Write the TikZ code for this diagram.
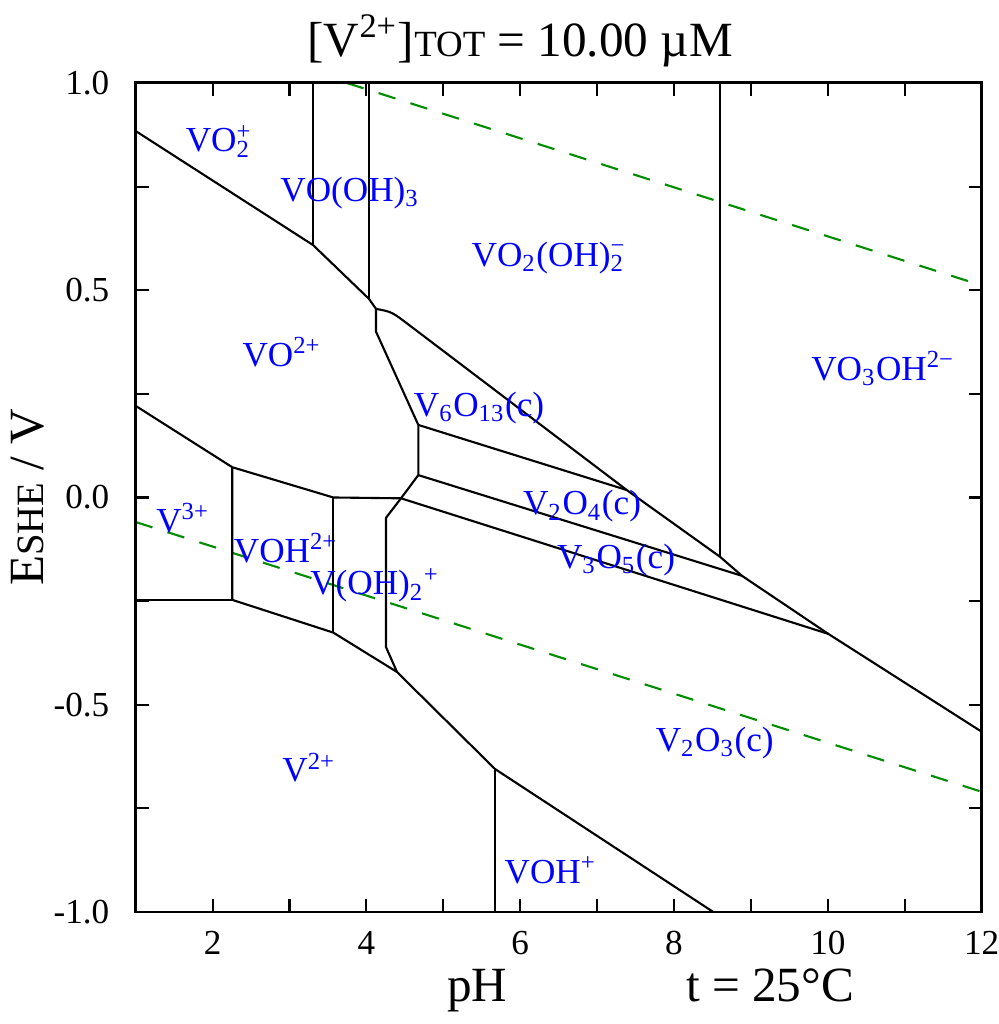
\documentclass[tikz,border=0pt]{standalone}
\usepackage{fontspec}
\setmainfont{Liberation Serif}
\usetikzlibrary{positioning}
\definecolor{waterline}{RGB}{0,140,0}
% subscript and superscript stacked over one another
\newcommand{\stk}[2]{\rlap{\textsubscript{#1}}\textsuperscript{#2}}

\begin{document}
\begin{tikzpicture}[x=0.769cm, y=4.145cm,
		bound/.style={black, line width=0.6pt, line join=round},
		water/.style={waterline, line width=0.6pt, dash pattern=on 5pt off 4.5pt},
		species/.style={blue, anchor=base, inner sep=0pt, font=\fontsize{10}{12}\selectfont},
		ticklbl/.style={inner sep=0pt, font=\fontsize{10}{12}\selectfont},
		axislbl/.style={inner sep=0pt, anchor=base, font=\fontsize{14}{16}\selectfont}]
	\useasboundingbox (-0.7646,-1.2702) rectangle (12.226,1.2002);
	
	% water stability limits
	\draw [water] (1,-0.0592) -- (12,-0.7099);
	\draw [water] (3.745,1) -- (12,0.5116);
	
	% corners of the fields
	\coordinate (a1) at (1,0.884);
	\coordinate (b1) at (3.306,0.609);
	\coordinate (c1) at (4.034,0.479);
	\coordinate (d1) at (4.125,0.455);
	\coordinate (e1) at (4.125,0.400);
	\coordinate (f1) at (4.675,0.175);
	\coordinate (g1) at (4.675,0.054);
	\coordinate (h1) at (4.450,-0.002);
	\coordinate (i1) at (4.255,-0.049);
	\coordinate (j1) at (4.255,-0.361);
	\coordinate (k1) at (4.398,-0.421);
	\coordinate (m1) at (5.672,-0.655);
	\coordinate (n1) at (8.511,-1);
	\coordinate (p1) at (7.385,0.018);
	\coordinate (q1) at (8.598,-0.143);
	\coordinate (r1) at (8.884,-0.189);
	\coordinate (s1) at (10.006,-0.329);
	\coordinate (a2) at (1,0.221);
	\coordinate (t1) at (2.256,0.073);
	\coordinate (u1) at (3.570,0.0);
	\coordinate (v1) at (2.256,-0.247);
	\coordinate (a3) at (1,-0.247);
	\coordinate (w1) at (3.570,-0.326);
	
	% boundaries
	\draw [bound] (a1) -- (b1) -- (c1) -- (d1) -- (e1) -- (f1) -- (g1) -- (h1)
		-- (i1) -- (j1) -- (k1) -- (m1) -- (n1);
	\draw [bound] (b1) -- (b1 |- 0,1);
	\draw [bound] (c1) -- (c1 |- 0,1);
	\draw [bound] (m1) -- (m1 |- 0,-1);
	\draw [bound] (d1) .. controls (4.33,0.448) .. (4.57,0.414) -- (p1) -- (q1)
		-- (r1) -- (s1) -- (12,-0.565);
	\draw [bound] (q1) -- (q1 |- 0,1);
	\draw [bound] (f1) -- (p1);
	\draw [bound] (g1) -- (r1);
	\draw [bound] (h1) -- (s1);
	\draw [bound] (a2) -- (t1) -- (u1) -- (h1);
	\draw [bound] (t1) -- (v1) -- (w1) -- (k1);
	\draw [bound] (a3) -- (v1);
	\draw [bound] (u1) -- (w1);
	
	% frame and ticks
	\draw [line width=0.85pt] (1,-1) rectangle (12,1);
	\foreach \x in {2,...,11} {
		\draw [line width=0.6pt] (\x,-1) -- ++(0cm,0.13cm);
		\draw [line width=0.6pt] (\x,1) -- ++(0cm,-0.13cm);
	}
	\foreach \y in {-0.75,-0.5,...,0.8} {
		\draw [line width=0.6pt] (1,\y) -- ++(0.13cm,0cm);
		\draw [line width=0.6pt] (12,\y) -- ++(-0.13cm,0cm);
	}
	\foreach \x in {2,4,...,12}
		\node [ticklbl] (xt\x) at (\x,-1.075) {\x};
	\foreach \y/\t [count=\i] in {1/1.0, 0.5/0.5, 0/0.0, -0.5/-0.5, -1/-1.0}
		\node [ticklbl, anchor=east] (yt\i) at (0.666,\y) {\t};
	
	% axis titles
	\node [axislbl] (title) at (6.0,1.065) {[V\textsuperscript{2+}]{\fontsize{10.5}{12}\selectfont TOT} = 10.00 µM};
	\node [axislbl] (phlbl) at (5.44,-1.215) {pH};
	\node [axislbl] (temp) at (9.25,-1.215) {t = 25°C};
	\node [axislbl, anchor=center, rotate=90] (elbl) at (-0.41,0) {E{\fontsize{11}{13}\selectfont SHE} / V};
	
	% species
	\node [species] (vo2p) at (2.083,0.834) {VO\stk{2}{+}};
	\node [species] (vooh3) at (3.786,0.714) {VO(OH)\textsubscript{3}};
	\node [species] (vo2oh2) at (6.374,0.557) {VO\textsubscript{2}(OH)\stk{2}{−}};
	\node [species] (vo) at (2.902,0.317) {VO\textsuperscript{2+}};
	\node [species] (vo3oh) at (10.718,0.283) {VO\textsubscript{3}OH\textsuperscript{2−}};
	\node [species] (v6o13) at (5.464,0.195) {V\textsubscript{6}O\textsubscript{13}(c)};
	\node [species] (v2o4) at (6.804,-0.042) {V\textsubscript{2}O\textsubscript{4}(c)};
	\node [species] (v3o5) at (7.246,-0.171) {V\textsubscript{3}O\textsubscript{5}(c)};
	\node [species] (v3p) at (1.615,-0.085) {V\textsuperscript{3+}};
	\node [species] (voh2p) at (2.954,-0.157) {VOH\textsuperscript{2+}};
	\node [species] (voh2) at (4.111,-0.235) {V(OH)\textsubscript{2}\textsuperscript{+}};
	\node [species] (v2o3) at (8.529,-0.613) {V\textsubscript{2}O\textsubscript{3}(c)};
	\node [species] (v2p) at (3.254,-0.686) {V\textsuperscript{2+}};
	\node [species] (vohp) at (6.394,-0.931) {VOH\textsuperscript{+}};
\end{tikzpicture}
\end{document}
